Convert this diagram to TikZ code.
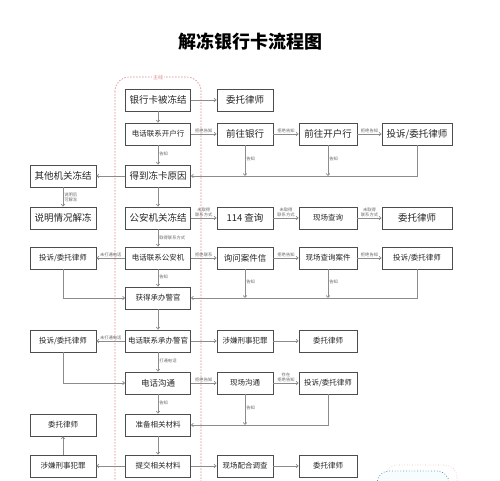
\documentclass[tikz,border=0pt]{standalone}
\usepackage{fontspec}
\setmainfont{Noto Sans CJK SC}
\usetikzlibrary{arrows.meta}
\definecolor{boxc}{HTML}{4D4D4D}
\definecolor{linec}{HTML}{8C8C8C}
\definecolor{labc}{HTML}{6A6A6A}
\definecolor{redd}{HTML}{E08A8A}
\definecolor{tealc}{HTML}{5A9AA8}
\tikzset{
  box/.style={draw=boxc, line width=0.8pt, fill=white, minimum height=22pt, inner sep=1pt, text=black!85, font=\fontsize{9.5}{10}\selectfont},
  sbox/.style={box, font=\fontsize{7.5}{8}\selectfont},
  mbox/.style={box, font=\fontsize{8.5}{9}\selectfont},
  wa/.style={minimum width=65pt},
  wl/.style={minimum width=66pt},
  wc/.style={minimum width=56pt},
  wd/.style={minimum width=58pt},
  we/.style={minimum width=70pt},
  arr/.style={draw=linec, line width=0.7pt, -{Straight Barb[length=2pt,width=3.5pt]}},
  lab/.style={font=\fontsize{4.3}{4.8}\selectfont, text=labc, inner sep=1pt, align=center}
}
\begin{document}
\begin{tikzpicture}[x=1pt,y=-1pt]
\useasboundingbox (0,0) rectangle (500,480);
\clip (0,0) rectangle (500,480);
\fill[white] (0,0) rectangle (500,480);
% title
\node[font=\bfseries\fontsize{18}{19}\selectfont] (title) at (250,42) {解冻银行卡流程图};
% main line frame
\draw[redd, line width=0.6pt, dash pattern=on 1.5pt off 1.5pt, rounded corners=14pt] (115,77) rectangle (201,530);
\node[fill=white, text=redd, font=\fontsize{5}{5}\selectfont, inner sep=1pt] (mainlab) at (158,78) {主线};
% bottom-right partial shape
\draw[redd!60, dotted, line width=0.6pt, rounded corners=12pt] (385,465) rectangle (457,530);
\draw[tealc, dotted, line width=0.8pt, fill=cyan!3, rounded corners=12pt] (377,471) rectangle (449,530);

% main column
\node[box,wa] (n1) at (158,100) {银行卡被冻结};
\node[sbox,wa] (n2) at (158,134) {电话联系开户行};
\node[box,wa] (n3) at (158,176) {得到冻卡原因};
\node[box,wa] (n4) at (158,218) {公安机关冻结};
\node[sbox,wa] (n5) at (158,258) {电话联系公安机};
\node[sbox,wa] (n6) at (158,298) {获得承办警官};
\node[sbox,wa] (n7) at (158,341) {电话联系承办警官};
\node[mbox,wa] (n8) at (158,383) {电话沟通};
\node[sbox,wa] (n9) at (158,425) {准备相关材料};
\node[sbox,wa] (n10) at (158,466) {提交相关材料};
% left column
\node[box,wl] (l3) at (63,176) {其他机关冻结};
\node[box,wl] (l4) at (63,218) {说明情况解冻};
\node[sbox,wl] (l5) at (63,258) {投诉/委托律师};
\node[sbox,wl] (l7) at (63,341) {投诉/委托律师};
\node[sbox,wl] (l9) at (63,425) {委托律师};
\node[sbox,wl] (l10) at (63,466) {涉嫌刑事犯罪};
% column 3
\node[box,wc] (a1) at (245,100) {委托律师};
\node[box,wc] (a2) at (245,134) {前往银行};
\node[box,wc] (a4) at (245,218) {114 查询};
\node[mbox,wc] (a5) at (245,258) {询问案件信};
\node[sbox,wc] (a7) at (245,341) {涉嫌刑事犯罪};
\node[sbox,wc] (a8) at (245,383) {现场沟通};
\node[sbox,wc] (a10) at (245,466) {现场配合调查};
% column 4
\node[box,wd] (b2) at (328,134) {前往开户行};
\node[sbox,wd] (b4) at (328,218) {现场查询};
\node[sbox,wd] (b5) at (328,258) {现场查询案件};
\node[sbox,wd] (b7) at (328,341) {委托律师};
\node[sbox,wd] (b8) at (328,383) {投诉/委托律师};
\node[sbox,wd] (b10) at (328,466) {委托律师};
% column 5
\node[box,we] (d2) at (417,134) {投诉/委托律师};
\node[box,we] (d4) at (417,218) {委托律师};
\node[sbox,we] (d5) at (417,258) {投诉/委托律师};

% connectors
\draw[arr] (n1) -- (a1);
\draw[arr] (n1) -- (n2);
\draw[arr] (n2) -- node[lab,above] {拒绝告知} (a2);
\draw[arr] (a2) -- node[lab,above] {拒绝告知} (b2);
\draw[arr] (b2) -- node[lab,above] {拒绝告知} (d2);
\draw[arr] (n2) -- node[lab,right,pos=0.45] {告知} (n3);
\draw[arr] (a2.south) -- node[lab,right,pos=0.45] {告知} (a2.south |- n3.east);
\draw[arr] (b2.south) -- node[lab,right,pos=0.45] {告知} (b2.south |- n3.east);
\draw[arr] (d2.south) |- (n3.east);

\draw[arr] (n3) -- (l3);
\draw[arr] (l3) -- node[lab,right,pos=0.5] {说明后\\可解冻} (l4);
\draw[arr] (n3) -- (n4);
\draw[arr] (n4) -- node[lab,above] {未取得\\联系方式} (a4);
\draw[arr] (a4) -- node[lab,above] {未取得\\联系方式} (b4);
\draw[arr] (b4) -- node[lab,above] {未取得\\联系方式} (d4);
\draw[arr] (n4) -- node[lab,right,pos=0.5] {取得联系方式} (n5);

\draw[arr] (n5) -- node[lab,above] {拒绝联系} (a5);
\draw[arr] (a5) -- node[lab,above] {拒绝告知} (b5);
\draw[arr] (b5) -- node[lab,above] {拒绝告知} (d5);
\draw[arr] (a5.south) -- node[lab,right,pos=0.45] {告知} (a5.south |- n6.east);
\draw[arr] (b5.south) -- node[lab,right,pos=0.45] {告知} (b5.south |- n6.east);
\draw[arr] (d5.south) |- (n6.east);
\draw[arr] (n5) -- node[lab,above] {未打通电话} (l5);
\draw[arr] (l5.south) |- (n6.west);
\draw[arr] (n5) -- node[lab,right,pos=0.45] {告知} (n6);

\draw[arr] (n6) -- (n7);
\draw[arr] (n7) -- node[lab,above] {未打通电话} (l7);
\draw[arr] (n7) -- (a7);
\draw[arr] (a7) -- (b7);
\draw[arr] (n7) -- node[lab,right,pos=0.45] {打通电话} (n8);
\draw[arr] (l7.south) |- (n8.west);
\draw[arr] (n8) -- node[lab,above] {拒绝告知} (a8);
\draw[arr] (a8) -- node[lab,above] {存在\\拒绝告知} (b8);
\draw[arr] (a8.south) -- node[lab,right,pos=0.45] {告知} (a8.south |- n9.east);
\draw[arr] (b8.south) |- (n9.east);
\draw[arr] (n8) -- node[lab,right,pos=0.45] {告知} (n9);

\draw[arr] (n9) -- (n10);
\draw[arr] (n10) -- (l10);
\draw[arr] (l10) -- (l9);
\draw[arr] (n10) -- (a10);
\draw[arr] (a10) -- (b10);
\end{tikzpicture}
\end{document}
